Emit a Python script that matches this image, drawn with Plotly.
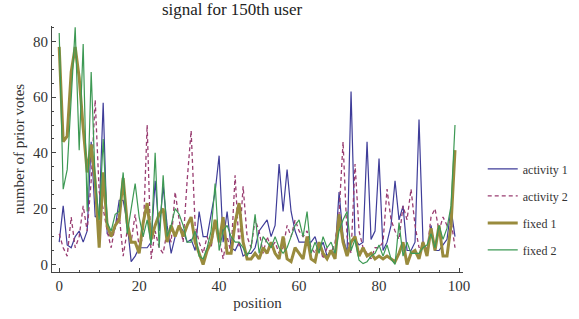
import plotly.graph_objects as go

positions = list(range(100))

activity_1 = [8, 21, 7, 6, 10, 12, 8, 12, 44, 17,
              18, 58, 11, 10, 13, 23, 23, 15, 1, 3,
              6, 6, 6, 8, 30, 12, 28, 14, 4, 10,
              14, 12, 8, 9, 5, 19, 10, 10, 18, 26,
              39, 8, 19, 6, 5, 8, 3, 4, 4, 6,
              12, 14, 16, 10, 14, 36, 19, 34, 19, 12,
              8, 8, 8, 8, 10, 5, 8, 3, 5, 4,
              26, 10, 4, 62, 9, 7, 8, 44, 9, 12,
              38, 5, 8, 14, 30, 16, 21, 5, 5, 8,
              52, 8, 5, 14, 5, 5, 7, 9, 20, 10]

activity_2 = [11, 6, 3, 17, 6, 10, 21, 12, 30, 59,
              26, 20, 12, 6, 14, 18, 3, 12, 8, 18,
              6, 10, 50, 2, 12, 6, 4, 12, 8, 26,
              16, 8, 30, 48, 14, 8, 4, 10, 6, 16,
              10, 2, 10, 4, 32, 6, 28, 10, 6, 16,
              12, 4, 10, 6, 8, 4, 6, 14, 10, 16,
              12, 10, 12, 6, 4, 8, 2, 6, 4, 8,
              18, 44, 10, 4, 36, 12, 6, 4, 2, 6,
              6, 8, 27, 16, 12, 9, 21, 16, 27, 14,
              6, 8, 5, 17, 20, 12, 17, 14, 16, 6]

fixed_1 = [78, 44, 46, 69, 78, 67, 49, 33, 43, 30,
           6, 33, 14, 10, 14, 16, 31, 15, 8, 8,
           4, 15, 22, 9, 14, 18, 20, 8, 14, 10,
           14, 10, 14, 17, 8, 4, 0, 5, 8, 16,
           8, 17, 4, 4, 15, 22, 8, 2, 2, 4,
           2, 6, 4, 8, 4, 2, 10, 2, 1, 6,
           4, 2, 10, 2, 1, 8, 4, 2, 5, 2,
           18, 8, 3, 8, 10, 3, 6, 3, 4, 2,
           3, 2, 3, 2, 1, 4, 8, 0, 4, 5,
           2, 8, 3, 13, 5, 14, 3, 3, 14, 41]

fixed_2 = [83, 27, 34, 60, 85, 41, 79, 19, 69, 30,
           16, 45, 15, 12, 18, 19, 33, 11, 20, 29,
           17, 10, 16, 7, 40, 6, 32, 10, 14, 20,
           18, 14, 8, 8, 12, 3, 2, 6, 12, 29,
           5, 12, 14, 10, 8, 8, 6, 3, 6, 18,
           4, 10, 8, 6, 10, 6, 4, 6, 10, 14,
           16, 10, 19, 4, 8, 4, 10, 6, 8, 4,
           12, 16, 19, 5, 9, 1.5, 0.3, 1, 3, 4,
           7, 3, 7, 2, 0, 15, 3, 8, 4, 4,
           4, 6, 7, 11, 6, 14, 9, 13, 21, 50]

FONT = "Liberation Serif"

fig = go.Figure()
series = [
    ("activity 1", activity_1, dict(color="#3F3D99", width=1.2)),
    ("activity 2", activity_2, dict(color="#993D71", width=1.3, dash="4px,3px")),
    ("fixed 1", fixed_1, dict(color="#998B3D", width=3)),
    ("fixed 2", fixed_2, dict(color="#3D9954", width=1.2)),
]
for name, vals, line in series:
    fig.add_trace(go.Scatter(x=positions, y=vals, mode="lines", name=name,
                             line=line, legendgroup=name))

axis_common = dict(showline=True, linecolor="#444", linewidth=1, mirror=False,
                   ticks="inside", ticklen=4, tickcolor="#444", showgrid=False,
                   zeroline=False, automargin=False,
                   tickfont=dict(family=FONT, size=15, color="#333"))

fig.update_xaxes(range=[-1.8, 101], dtick=20, tick0=0,
                 minor=dict(dtick=5, ticks="inside", ticklen=2, tickcolor="#444"),
                 title=dict(text="position", font=dict(family=FONT, size=15, color="#333"), standoff=4),
                 **axis_common)
fig.update_yaxes(range=[-2.7, 85.5], dtick=20, tick0=0,
                 minor=dict(dtick=5, ticks="inside", ticklen=2, tickcolor="#444"),
                 title=dict(text="number of prior votes", font=dict(family=FONT, size=15, color="#333"), standoff=4),
                 **axis_common)

fig.update_layout(
    width=579, height=319,
    margin=dict(l=52, r=116, t=26, b=47, autoexpand=False),
    paper_bgcolor="white", plot_bgcolor="white",
    title=dict(text="signal for 150th user", x=232 / 579, xanchor="center",
               y=1 - 9 / 319, yanchor="middle",
               font=dict(family=FONT, size=17, color="#222")),
    legend=dict(x=1.048, y=0.478, xanchor="left", yanchor="top",
                font=dict(family=FONT, size=12, color="#333"),
                tracegroupgap=8, bgcolor="rgba(0,0,0,0)"),
    showlegend=True,
)

fig.write_html("out.html", config={"displayModeBar": False},
               post_script="document.body.style.margin='0';")
